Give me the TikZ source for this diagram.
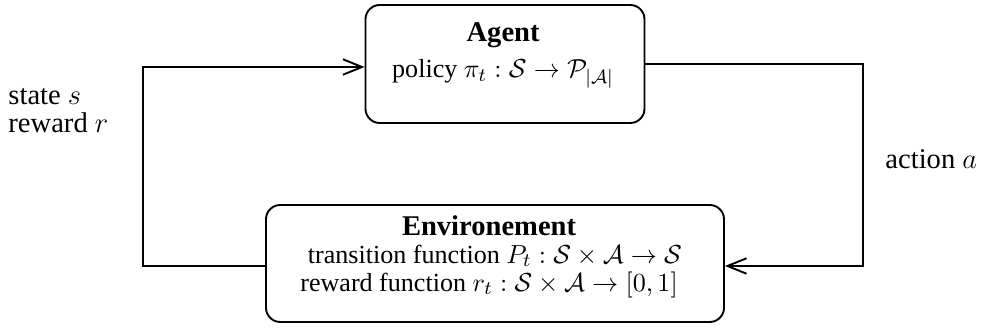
\documentclass[12pt,tikz,border=0pt]{standalone}
\usepackage[no-math]{fontspec}
\setmainfont{Liberation Serif}
\usetikzlibrary{arrows.meta}
\begin{document}
\begin{tikzpicture}[x=0.42pt,y=-0.42pt,
  box/.style={draw,line width=0.8pt,rounded corners=6pt,align=center,inner sep=0pt,font=\small},
  conn/.style={line width=0.8pt},
  arr/.style={conn,-{Straight Barb[length=8pt,width=6.5pt,line width=0.8pt]}},
  lbl/.style={align=left,inner sep=0pt}]
\useasboundingbox (0,0) rectangle (983,329);
\node[box,minimum width=279*0.42pt,minimum height=118*0.42pt] (agent) at (505,64)
  {\rule{0pt}{15.5pt}{\normalsize\bfseries Agent}\hspace*{1.6pt}\\[1.5pt]
   policy $\pi_t:\mathcal{S}\rightarrow\mathcal{P}_{|\mathcal{A}|}$\hspace*{1.6pt}\rule[-18.9pt]{0pt}{18.9pt}};
\node[box,minimum width=458*0.42pt,minimum height=117*0.42pt] (env) at (495,263.5)
  {\rule{0pt}{12.6pt}{\normalsize\bfseries Environement}\hspace*{5pt}\\[-1.84pt]
   transition function $P_t:\mathcal{S}\times\mathcal{A}\rightarrow\mathcal{S}$\hspace*{5pt}\\[-1.84pt]
   reward function $r_t:\mathcal{S}\times\mathcal{A}\rightarrow[0,1]$\hspace*{5pt}\rule[-13pt]{0pt}{13pt}};
\coordinate (ur) at (863,64);
\coordinate (lr) at (863,266);
\coordinate (ul) at (143,67);
\coordinate (ll) at (143,266);
\draw[arr] (agent.east) -- (ur) -- (lr) -- (env.east |- lr);
\draw[arr] (env.west |- ll) -- (ll) -- (ul) -- (agent.west |- ul);
\node[lbl,anchor=base west] (sr) at (8,133) {state $s$\\[-2.74pt] reward $r$};
\node[lbl,anchor=base west] (act) at (885,169) {action $a$};
\end{tikzpicture}
\end{document}
